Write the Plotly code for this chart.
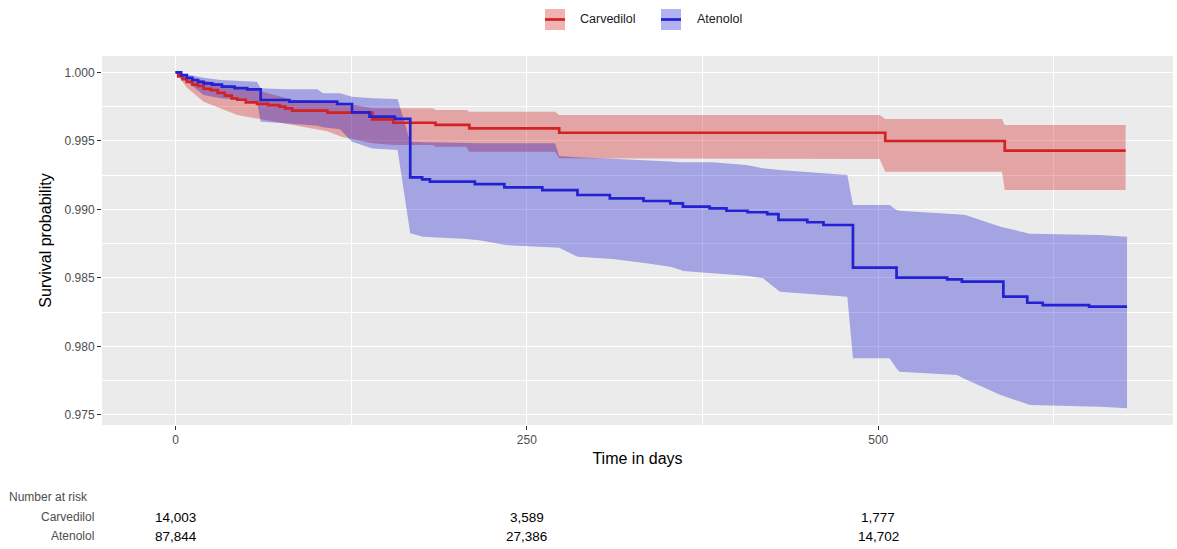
import plotly.graph_objects as go

# ---- Kaplan-Meier estimates (step points: event day, survival after event) ----
carv_time = [0, 2, 5, 8, 12, 16, 20, 25, 30, 35, 40, 44, 50, 58, 66, 74, 78, 83,
             108, 140, 155, 185, 209, 273, 505, 590, 676]
carv_surv = [1.0, 0.9997, 0.9995, 0.9993, 0.9991, 0.9990, 0.9988, 0.9987, 0.9985,
             0.9983, 0.9981, 0.9980, 0.9978, 0.9977, 0.9976, 0.9975, 0.99737, 0.9972,
             0.99706, 0.99657, 0.99632, 0.99616, 0.99591, 0.99559, 0.99499, 0.99428,
             0.99428]

aten_time = [0, 4, 8, 12, 16, 20, 26, 33, 42, 51, 60.6, 81, 115, 125.6, 138, 156,
             167, 175.5, 181, 213, 234, 261, 286, 309, 333, 352, 361, 380, 392, 407,
             421, 429, 449.5, 461, 482, 513, 549, 559.5, 589, 606, 617, 650, 677]
aten_surv = [1.0, 0.9998, 0.9996, 0.99944, 0.9993, 0.9992, 0.9991, 0.99895, 0.99885,
             0.99876, 0.99798, 0.99786, 0.99769, 0.99708, 0.99676, 0.99660, 0.99234,
             0.99219, 0.99202, 0.99185, 0.99161, 0.99141, 0.99105, 0.99081, 0.99061,
             0.99044, 0.99020, 0.99008, 0.98990, 0.98979, 0.98966, 0.98923, 0.98906,
             0.98886, 0.98575, 0.98502, 0.98490, 0.98473, 0.98363, 0.98319, 0.98302,
             0.98290, 0.98290]

# ---- 95% confidence bands ----
carv_band_time = [0, 8, 20, 44, 58, 83, 108, 118, 140, 155, 183, 185, 207, 209, 270,
                  273, 501, 505, 588, 590, 676]
carv_upper = [1.0, 0.9997, 0.9994, 0.9989, 0.9987, 0.9980, 0.9979, 0.9978, 0.99737,
              0.99737, 0.99737, 0.99725, 0.99725, 0.99713, 0.99713, 0.99688, 0.99688,
              0.99660, 0.99660, 0.99616, 0.99616]
carv_lower = [1.0, 0.9989, 0.99786, 0.99688, 0.99664, 0.99616, 0.9957, 0.9953, 0.99482,
              0.99470, 0.99470, 0.99457, 0.99457, 0.99421, 0.99421, 0.99373, 0.99367,
              0.99275, 0.99275, 0.99141, 0.99141]

aten_band_time = [0, 10, 20, 32, 58, 60.6, 78, 101, 105, 117, 125.6, 140, 158, 167,
                  176, 207, 216, 235, 270, 273, 286, 311, 335, 352, 359, 361, 382,
                  406, 418, 430, 478, 482, 508, 513, 515, 556, 562, 587, 606, 608,
                  658, 677]
aten_upper = [1.0, 0.9998, 0.9996, 0.99944, 0.99931, 0.99883, 0.99876, 0.99876,
              0.99847, 0.99847, 0.99822, 0.99810, 0.99805, 0.99494, 0.99490, 0.99485,
              0.99482, 0.99482, 0.99482, 0.99390, 0.99380, 0.99370, 0.99360, 0.99350,
              0.99343, 0.99343, 0.99343, 0.99324, 0.99300, 0.99287, 0.99251, 0.99032,
              0.99032, 0.98995, 0.98990, 0.98965, 0.98959, 0.98874, 0.98825, 0.98822,
              0.98813, 0.98801]
aten_lower = [1.0, 0.9992, 0.99834, 0.99810, 0.99786, 0.99640, 0.99628, 0.99610,
              0.99600, 0.99585, 0.99494, 0.99445, 0.99433, 0.98825, 0.98801, 0.98784,
              0.98775, 0.98740, 0.98722, 0.98720, 0.98655, 0.98638, 0.98607, 0.98582,
              0.98560, 0.98550, 0.98534, 0.98515, 0.98497, 0.98400, 0.98363, 0.97914,
              0.97914, 0.97840, 0.97816, 0.97792, 0.97760, 0.97646, 0.97580, 0.97573,
              0.97561, 0.97549]

# ---- risk table ----
groups = ["Carvedilol", "Atenolol"]
risk_days = [0, 250, 500]
carv_at_risk = ["14,003", "3,589", "1,777"]
aten_at_risk = ["87,844", "27,386", "14,702"]

line_colors = ["#D42222", "#2222D2"]
fill_colors = ["rgba(205,0,0,0.3)", "rgba(0,0,205,0.3)"]

W, H = 1177, 549
ML, MR, MT, MB = 102, 4, 56, 124
PW, PH = W - ML - MR, H - MT - MB


def px_x(px):
    return (px - ML) / PW


def px_y(py):
    return (H - MB - py) / PH


fig = go.Figure()

bands = [(carv_band_time, carv_upper, carv_lower), (aten_band_time, aten_upper, aten_lower)]
for (bt, up, lo), fc in zip(bands, fill_colors):
    fig.add_trace(go.Scatter(
        x=bt + bt[::-1], y=up + lo[::-1], mode="lines", fill="toself",
        fillcolor=fc, line=dict(width=0), hoverinfo="skip", showlegend=False))

curves = [(carv_time, carv_surv), (aten_time, aten_surv)]
for (t, s), lc, name in zip(curves, line_colors, groups):
    fig.add_trace(go.Scatter(
        x=t, y=s, mode="lines", name=name, line=dict(color=lc, width=2.7, shape="hv"),
        showlegend=False))

font = "Liberation Sans, Arial, sans-serif"

fig.update_layout(
    width=W, height=H,
    margin=dict(l=ML, r=MR, t=MT, b=MB),
    paper_bgcolor="white", plot_bgcolor="#EBEBEB",
    font=dict(family=font, color="#1A1A1A"),
    showlegend=False,
)

fig.update_xaxes(
    range=[-52.3, 709.7], tickvals=risk_days, ticktext=[str(d) for d in risk_days],
    ticks="outside", ticklen=4, tickcolor="#333333", tickwidth=1,
    tickfont=dict(size=12, color="#4D4D4D"),
    showgrid=True, gridcolor="white", gridwidth=1.2, zeroline=False, showline=False,
    minor=dict(tickvals=[125, 375, 625], showgrid=True, gridcolor="white", gridwidth=0.6,
               ticks=""),
    title=dict(text="Time in days", font=dict(size=16, color="black"), standoff=6),
)
fig.update_yaxes(
    range=[0.97427, 1.00119], tickvals=[0.975, 0.980, 0.985, 0.990, 0.995, 1.000],
    tickformat=".3f",
    ticks="outside", ticklen=4, tickcolor="#333333", tickwidth=1,
    tickfont=dict(size=12, color="#4D4D4D"),
    showgrid=True, gridcolor="white", gridwidth=1.2, zeroline=False, showline=False,
    minor=dict(tickvals=[0.9775, 0.9825, 0.9875, 0.9925, 0.9975], showgrid=True,
               gridcolor="white", gridwidth=0.6, ticks=""),
    title=dict(text="Survival probability", font=dict(size=16, color="black"), standoff=8),
)

# legend drawn at the top centre
legend_items = [(545, 578), (661, 695)]
for (kx, tx), lc, fc, name in zip(legend_items, line_colors, fill_colors, groups):
    fig.add_shape(type="rect", xref="paper", yref="paper",
                  x0=px_x(kx), x1=px_x(kx + 20), y0=px_y(30), y1=px_y(9),
                  fillcolor=fc, line=dict(width=0), layer="above")
    fig.add_shape(type="line", xref="paper", yref="paper",
                  x0=px_x(kx), x1=px_x(kx + 20), y0=px_y(19.5), y1=px_y(19.5),
                  line=dict(color=lc, width=2.7), layer="above")
    fig.add_annotation(text=name, xref="paper", yref="paper", x=px_x(tx), y=px_y(19.5),
                       xanchor="left", yanchor="middle", showarrow=False,
                       font=dict(size=12.5, color="#1A1A1A"))

# number-at-risk table
fig.add_annotation(text="Number at risk", xref="paper", yref="paper", x=px_x(7),
                   y=px_y(497), xanchor="left", yanchor="middle", showarrow=False,
                   font=dict(size=12, color="#4D4D4D"))
for row_y, name, counts in [(517, groups[0], carv_at_risk), (536, groups[1], aten_at_risk)]:
    fig.add_annotation(text=name, xref="paper", yref="paper", x=px_x(96), y=px_y(row_y),
                       xanchor="right", yanchor="middle", showarrow=False,
                       font=dict(size=12, color="#4D4D4D"))
    for d, c in zip(risk_days, counts):
        fig.add_annotation(text=c, xref="x", yref="paper", x=d, y=px_y(row_y),
                           xanchor="center", yanchor="middle", showarrow=False,
                           font=dict(size=13.5, color="black"))

fig.write_html("out.html")
